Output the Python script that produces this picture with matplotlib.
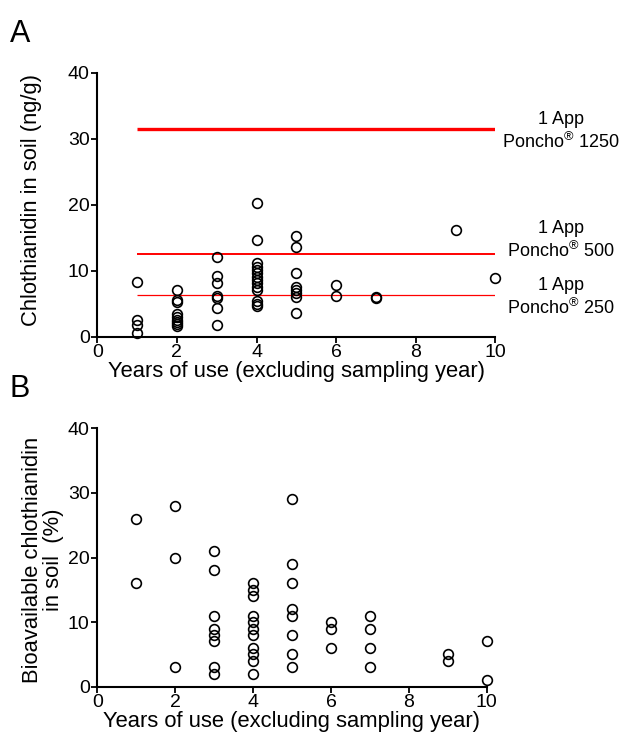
import matplotlib
matplotlib.use("Agg")
import matplotlib.pyplot as plt

plt.rcParams['font.family'] = ['Liberation Sans', 'DejaVu Sans']
plt.rcParams['mathtext.fontset'] = 'custom'
plt.rcParams['mathtext.rm'] = 'Liberation Sans'

# Panel A: chlothianidin in soil (ng/g) vs years of use
a_years = [1, 1, 1, 1,
           2, 2, 2, 2, 2, 2, 2, 2, 2,
           3, 3, 3, 3, 3, 3, 3,
           4, 4, 4, 4, 4, 4, 4, 4, 4, 4, 4, 4, 4, 4,
           5, 5, 5, 5, 5, 5, 5, 5,
           6, 6,
           7, 7,
           9,
           10]
a_conc = [8.3, 2.5, 1.7, 0.6,
          7.0, 5.6, 5.3, 3.4, 3.0, 2.6, 2.3, 1.9, 1.6,
          12.1, 9.2, 8.2, 6.2, 5.9, 4.4, 1.7,
          20.3, 14.6, 11.2, 10.6, 10.1, 9.6, 9.1, 8.6, 8.1, 7.6, 7.1, 5.4, 5.0, 4.7,
          15.2, 13.6, 9.6, 7.6, 7.1, 6.6, 6.0, 3.6,
          7.9, 6.2,
          6.0, 5.8,
          16.2,
          8.9]

# Reference levels (1 application of Poncho)
ref_levels = [31.5, 12.6, 6.3]
ref_labels = ["1 App\nPoncho$^{\\circledR}$ 1250",
              "1 App\nPoncho$^{\\circledR}$ 500",
              "1 App\nPoncho$^{\\circledR}$ 250"]
ref_x = [1, 10]

# Panel B: bioavailable chlothianidin (%)
b_years = [1, 1,
           2, 2, 2,
           3, 3, 3, 3, 3, 3, 3, 3,
           4, 4, 4, 4, 4, 4, 4, 4, 4, 4, 4,
           5, 5, 5, 5, 5, 5, 5, 5,
           6, 6, 6,
           7, 7, 7, 7,
           9, 9,
           10, 10]
b_pct = [26, 16,
         28, 20, 3,
         21, 18, 11, 9, 8, 7, 3, 2,
         16, 15, 14, 11, 10, 9, 8, 6, 5, 4, 2,
         29, 19, 16, 12, 11, 8, 5, 3,
         10, 9, 6,
         11, 9, 6, 3,
         5, 4,
         7, 1]

W, H = 621, 738
fig = plt.figure(figsize=(W / 100, H / 100), dpi=100)

axA = fig.add_axes([97.3 / W, 1 - 336.7 / H, 398 / W, 264 / H])
axB = fig.add_axes([97.3 / W, 1 - 686.7 / H, 389.4 / W, 258.4 / H])

mk = dict(marker='o', linestyle='none', markersize=7.0, markerfacecolor='none',
          markeredgecolor='black', markeredgewidth=1.2, clip_on=False, zorder=3)

axA.plot(a_years, a_conc, **mk)
widths = [2.4, 1.4, 0.9]
text_y = [31.1, 14.6, 5.9]
for lvl, lab, lw, ty in zip(ref_levels, ref_labels, widths, text_y):
    axA.plot(ref_x, [lvl, lvl], color='#ff0000', lw=lw, zorder=2, solid_capstyle='butt')
    axA.text(11.65, ty, lab, ha='center', va='center', fontsize=13,
             linespacing=1.25, clip_on=False)

axB.plot(b_years, b_pct, **mk)

for ax in (axA, axB):
    ax.set_xlim(0, 10)
    ax.set_ylim(0, 40)
    ax.set_xticks([0, 2, 4, 6, 8, 10])
    ax.set_yticks([0, 10, 20, 30, 40])
    for s in ('top', 'right'):
        ax.spines[s].set_visible(False)
    for s in ('left', 'bottom'):
        ax.spines[s].set_linewidth(1.5)
    ax.tick_params(axis='both', which='major', direction='out', length=4,
                   width=1.3, labelsize=14, pad=1.5)
    ax.set_xlabel("Years of use (excluding sampling year)", fontsize=15.8, labelpad=0)

fig.text(31.7 / W, 1 - 200 / H, "Chlothianidin in soil (ng/g)", fontsize=15.8,
         rotation=90, ha='center', va='center')
fig.text(43.5 / W, 1 - 560 / H, "Bioavailable chlothianidin\nin soil  (%)", fontsize=15.8,
         rotation=90, ha='center', va='center', linespacing=1.0,
         multialignment='center')

fig.text(10 / W, 1 - 42 / H, "A", fontsize=22, ha='left', va='baseline')
fig.text(10 / W, 1 - 397 / H, "B", fontsize=22, ha='left', va='baseline')

fig.savefig("out.png", dpi=100)
